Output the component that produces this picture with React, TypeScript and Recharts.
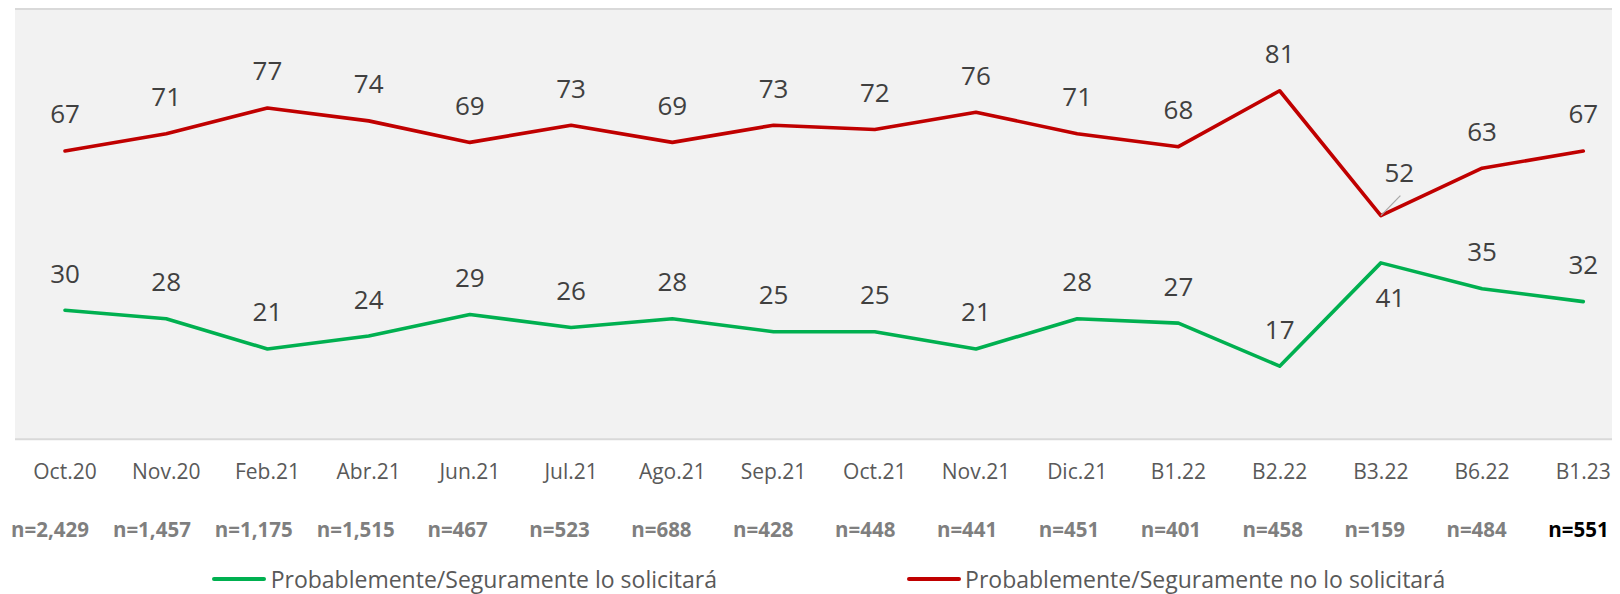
import React from 'react';
import { LineChart, Line, XAxis, YAxis, CartesianGrid, LabelList, Legend } from 'recharts';

const categories = ['Oct.20', 'Nov.20', 'Feb.21', 'Abr.21', 'Jun.21', 'Jul.21', 'Ago.21', 'Sep.21', 'Oct.21', 'Nov.21', 'Dic.21', 'B1.22', 'B2.22', 'B3.22', 'B6.22', 'B1.23'];
const sampleSizes = ['n=2,429', 'n=1,457', 'n=1,175', 'n=1,515', 'n=467', 'n=523', 'n=688', 'n=428', 'n=448', 'n=441', 'n=451', 'n=401', 'n=458', 'n=159', 'n=484', 'n=551'];
const solicitara = [30, 28, 21, 24, 29, 26, 28, 25, 25, 21, 28, 27, 17, 41, 35, 32];
const noSolicitara = [67, 71, 77, 74, 69, 73, 69, 73, 72, 76, 71, 68, 81, 52, 63, 67];
const yTicks = [0, 20, 40, 60, 80, 100];
const seriesNames = ['Probablemente/Seguramente lo solicitará', 'Probablemente/Seguramente no lo solicitará'];
const calloutCategory = 'B3.22';

const data = categories.map((cat, i) => ({ cat, si: solicitara[i], no: noSolicitara[i] }));

const CHART_W = 1612;
const CHART_H = 586;
const FONT = '"Open Sans", Lato, sans-serif';
const GREEN = '#00b050';
const RED = '#c00000';

function CategoryTick(props: any) {
  const { x, y, payload, index } = props;
  const last = index === categories.length - 1;
  const nShift = -15 + index * 0.68;
  return (
    <g>
      <text x={x} y={y + 40} textAnchor="middle" fill="#595959" fontSize={21} fontFamily={FONT}>
        {payload.value}
      </text>
      <text x={x + nShift} y={y + 97.4} textAnchor="middle" fill={last ? '#000000' : '#7f7f7f'} fontSize={20.5} fontWeight={700} fontFamily={FONT}>
        {sampleSizes[index]}
      </text>
    </g>
  );
}

function labelRenderer(series: 'si' | 'no') {
  return (props: any) => {
    const { x, y, value, index } = props;
    const isCallout = categories[index] === calloutCategory;
    if (isCallout && series === 'si') {
      return (
        <text x={x + 9.4} y={y + 44} textAnchor="middle" fill="#404040" fontSize={26} fontFamily={FONT}>
          {value}
        </text>
      );
    }
    if (isCallout && series === 'no') {
      return (
        <g>
          <line x1={x} y1={y} x2={x + 19.5} y2={y - 20} stroke="#a6a6a6" strokeWidth={1.2} />
          <text x={x + 18.4} y={y - 33.7} textAnchor="middle" fill="#404040" fontSize={26} fontFamily={FONT}>
            {value}
          </text>
        </g>
      );
    }
    return (
      <text x={x} y={y - 27.5} textAnchor="middle" fill="#404040" fontSize={26} fontFamily={FONT}>
        {value}
      </text>
    );
  };
}

function LegendContent() {
  const items = [
    { label: seriesNames[0], color: GREEN, left: 204.3 },
    { label: seriesNames[1], color: RED, left: 898.7 },
  ];
  return (
    <div style={{ position: 'relative', height: 30, width: CHART_W, fontFamily: FONT }}>
      {items.map((it) => (
        <div key={it.label}>
          <div style={{ position: 'absolute', left: it.left, top: 13.3, width: 54, height: 4, borderRadius: 2, background: it.color }} />
          <div style={{ position: 'absolute', left: it.left + 58.4, top: 0, height: 30, lineHeight: '30px', fontSize: 23, color: '#595959', whiteSpace: 'nowrap' }}>
            {it.label}
          </div>
        </div>
      ))}
    </div>
  );
}

export default function App() {
  return (
    <div style={{ width: CHART_W, height: CHART_H }}>
      <LineChart width={CHART_W} height={CHART_H} data={data} margin={{ top: 1, right: 0, left: 7, bottom: 0 }}>
        <CartesianGrid vertical={false} fill="#f2f2f2" stroke="#d9d9d9" strokeWidth={2} />
        <XAxis
          dataKey="cat"
          type="category"
          scale="point"
          interval={0}
          padding={{ left: 50, right: 36.7 }}
          axisLine={false}
          tickLine={false}
          tickSize={0}
          tickMargin={0}
          height={124.7}
          tick={<CategoryTick />}
        />
        <YAxis
          domain={[0, 100]}
          ticks={yTicks}
          width={0}
          tick={false}
          tickLine={false}
          axisLine={{ stroke: '#d9d9d9', strokeWidth: 2 }}
        />
        <Legend verticalAlign="bottom" wrapperStyle={{ left: 0, width: CHART_W }} content={<LegendContent />} />
        <Line
          type="linear"
          dataKey="no"
          name={seriesNames[1]}
          stroke={RED}
          strokeWidth={3.6}
          strokeLinecap="round"
          strokeLinejoin="round"
          dot={false}
          activeDot={false}
          isAnimationActive={false}
        >
          <LabelList dataKey="no" content={labelRenderer('no')} />
        </Line>
        <Line
          type="linear"
          dataKey="si"
          name={seriesNames[0]}
          stroke={GREEN}
          strokeWidth={3.6}
          strokeLinecap="round"
          strokeLinejoin="round"
          dot={false}
          activeDot={false}
          isAnimationActive={false}
        >
          <LabelList dataKey="si" content={labelRenderer('si')} />
        </Line>
      </LineChart>
    </div>
  );
}
